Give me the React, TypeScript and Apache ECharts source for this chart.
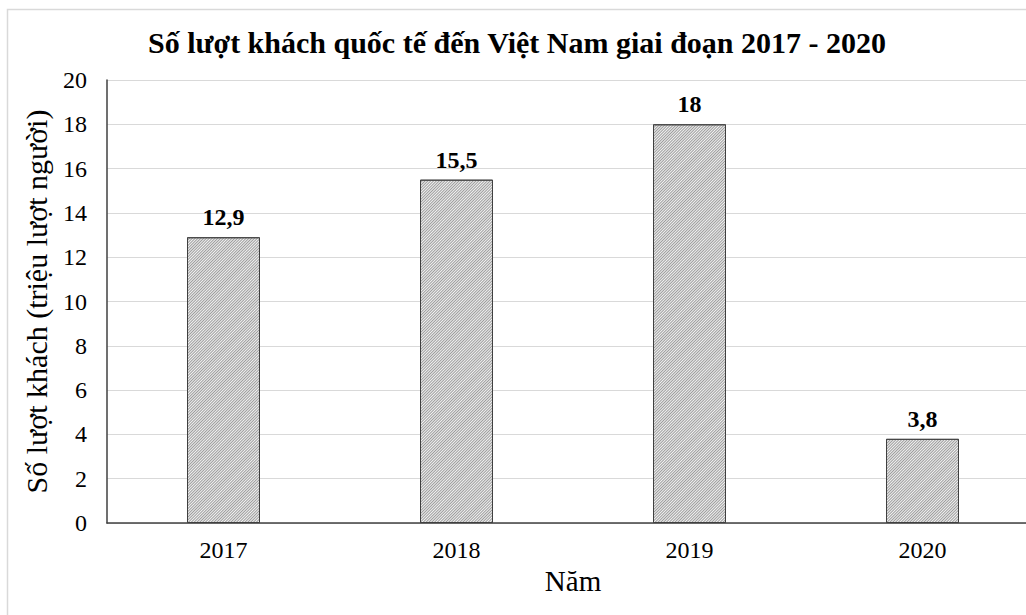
import React, { useEffect, useRef } from "react";
import * as echarts from "echarts";

const categories = ["2017", "2018", "2019", "2020"];
const visitors = [12.9, 15.5, 18, 3.8];
const titleText = "Số lượt khách quốc tế đến Việt Nam giai đoạn 2017 - 2020";
const yName = "Số lượt khách (triệu lượt người)";
const xName = "Năm";

const FONT = "'Liberation Serif', 'Times New Roman', serif";

export default function App() {
  const ref = useRef<HTMLDivElement>(null);
  useEffect(() => {
    if (!ref.current) return;
    const chart = echarts.init(ref.current, null, { renderer: "svg" });
    chart.setOption({
      animation: false,
      backgroundColor: "#ffffff",
      graphic: [
        {
          type: "rect",
          shape: { x: 7.5, y: 9.5, width: 1200, height: 800 },
          style: { fill: "none", stroke: "#d9d9d9", lineWidth: 1.5 },
          silent: true,
          z: -10,
        },
        {
          type: "text",
          x: 517,
          y: 42,
          style: {
            text: titleText,
            font: `bold 30px ${FONT}`,
            fill: "#000",
            textAlign: "center",
            textVerticalAlign: "middle",
          },
        },
      ],
      grid: {
        left: 107,
        top: 80,
        width: 932,
        height: 443,
        outerBoundsMode: "none",
        containLabel: false,
      },
      xAxis: {
        type: "category",
        data: categories,
        name: xName,
        nameLocation: "middle",
        nameGap: 40,
        nameTextStyle: { fontFamily: FONT, fontSize: 29, color: "#000" },
        axisLine: { lineStyle: { color: "#404040", width: 1.5 } },
        axisTick: { show: false },
        axisLabel: { fontFamily: FONT, fontSize: 24, color: "#000", margin: 15 },
      },
      yAxis: {
        type: "value",
        min: 0,
        max: 20,
        interval: 2,
        name: yName,
        nameLocation: "middle",
        nameGap: 56,
        nameTextStyle: { fontFamily: FONT, fontSize: 30, color: "#000" },
        axisLine: { show: true, lineStyle: { color: "#404040", width: 1.5 } },
        axisTick: { show: false },
        axisLabel: { fontFamily: FONT, fontSize: 24, color: "#000", margin: 20 },
        splitLine: { lineStyle: { color: "#d9d9d9", width: 1 } },
      },
      series: [
        {
          type: "bar",
          data: visitors,
          barWidth: 73,
          itemStyle: {
            color: "#f2f2f2",
            borderColor: "#404040",
            borderWidth: 1,
            decal: {
              symbol: "rect",
              symbolSize: 1,
              color: "rgba(120,120,120,0.7)",
              dashArrayX: [1, 0],
              dashArrayY: [1, 1],
              rotation: -Math.PI / 4,
            },
          },
          label: {
            show: true,
            position: "top",
            distance: 8,
            fontFamily: FONT,
            fontSize: 24,
            fontWeight: "bold",
            color: "#000",
            formatter: (p: any) => String(p.value).replace(".", ","),
          },
        },
      ],
    });
    return () => chart.dispose();
  }, []);
  return (
    <div
      ref={ref}
      style={{ position: "fixed", left: 0, top: 0, width: 1026, height: 615 }}
    />
  );
}
